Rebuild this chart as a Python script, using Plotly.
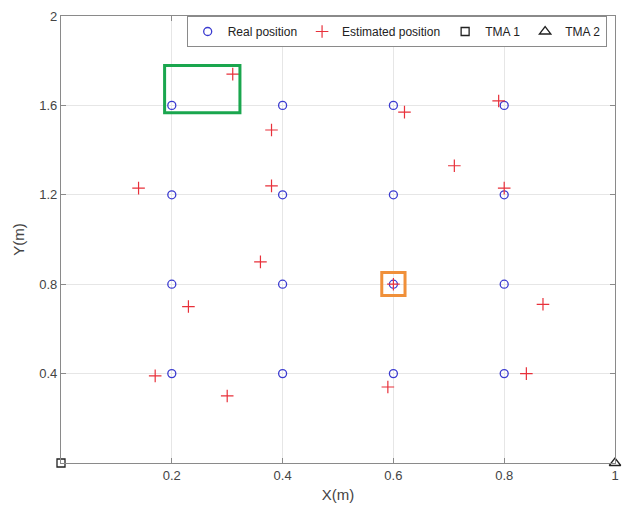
import plotly.graph_objects as go

# Real positions (grid)
real_x = [0.2, 0.4, 0.6, 0.8, 0.2, 0.4, 0.6, 0.8, 0.2, 0.4, 0.6, 0.8, 0.2, 0.4, 0.6, 0.8]
real_y = [1.6, 1.6, 1.6, 1.6, 1.2, 1.2, 1.2, 1.2, 0.8, 0.8, 0.8, 0.8, 0.4, 0.4, 0.4, 0.4]

# Estimated positions
est_x = [0.31, 0.38, 0.62, 0.79, 0.71, 0.14, 0.38, 0.80, 0.36, 0.60, 0.23, 0.87, 0.17, 0.30, 0.59, 0.84]
est_y = [1.74, 1.49, 1.57, 1.62, 1.33, 1.23, 1.24, 1.23, 0.90, 0.80, 0.70, 0.71, 0.39, 0.30, 0.34, 0.40]

# Anchors
tma1_x = [0.0]
tma1_y = [0.0]
tma2_x = [1.0]
tma2_y = [0.0]

# Highlight boxes (data coordinates)
green_box = [0.187, 1.567, 0.323, 1.779]
orange_box = [0.579, 0.75, 0.621, 0.852]

x_ticks = [0.2, 0.4, 0.6, 0.8, 1]
x_tick_labels = ["0.2", "0.4", "0.6", "0.8", "1"]
y_ticks = [0.4, 0.8, 1.2, 1.6, 2]
y_tick_labels = ["0.4", "0.8", "1.2", "1.6", "2"]

fig = go.Figure()
fig.add_trace(go.Scatter(x=real_x, y=real_y, mode="markers", name="Real position",
                         marker=dict(symbol="circle-open", size=8, color="#3b3bd0", line=dict(width=1.3))))
fig.add_trace(go.Scatter(x=est_x, y=est_y, mode="markers", name="Estimated position",
                         marker=dict(symbol="cross-thin-open", size=9, color="#e8303a", line=dict(width=1.2, color="#e8303a"))))
fig.add_trace(go.Scatter(x=tma1_x, y=tma1_y, mode="markers", name="TMA 1", cliponaxis=False,
                         marker=dict(symbol="square-open", size=8, color="#222222", line=dict(width=1.3))))
fig.add_trace(go.Scatter(x=tma2_x, y=tma2_y, mode="markers", name="TMA 2", cliponaxis=False,
                         marker=dict(symbol="triangle-up-open", size=10, color="#222222", line=dict(width=1.3))))

fig.add_shape(type="rect", x0=green_box[0], y0=green_box[1], x1=green_box[2], y1=green_box[3],
              line=dict(color="#1aa64e", width=3))
fig.add_shape(type="rect", x0=orange_box[0], y0=orange_box[1], x1=orange_box[2], y1=orange_box[3],
              line=dict(color="#f0903a", width=3))

axis_common = dict(showgrid=True, gridcolor="#e6e6e6", gridwidth=1, showline=True, linecolor="#8a8a8a",
                   linewidth=1.3, mirror="ticks", ticks="inside", ticklen=5, tickcolor="#8a8a8a",
                   zeroline=False, ticklabeloverflow="allow", automargin=False,
                   tickfont=dict(family="Liberation Sans, Arial", size=13, color="#444444"))

fig.update_xaxes(range=[0, 1], tickvals=x_ticks, ticktext=x_tick_labels,
                 title=dict(text="X(m)", font=dict(family="Liberation Sans, Arial", size=15, color="#444444"), standoff=8),
                 **axis_common)
fig.update_yaxes(range=[0, 2], tickvals=y_ticks, ticktext=y_tick_labels,
                 title=dict(text="Y(m)", font=dict(family="Liberation Sans, Arial", size=15, color="#444444"), standoff=10),
                 **axis_common)

fig.update_layout(
    width=622, height=495,
    margin=dict(l=53, r=15, t=8, b=40),
    paper_bgcolor="white", plot_bgcolor="white",
    showlegend=True,
    legend=dict(orientation="h", x=0.985, y=1.0, xanchor="right", yanchor="top",
                bgcolor="white", bordercolor="#8a8a8a", borderwidth=1,
                font=dict(family="Liberation Sans, Arial", size=12, color="#222222"),
                itemwidth=30, tracegroupgap=0),
)

fig.write_html("out.html")
